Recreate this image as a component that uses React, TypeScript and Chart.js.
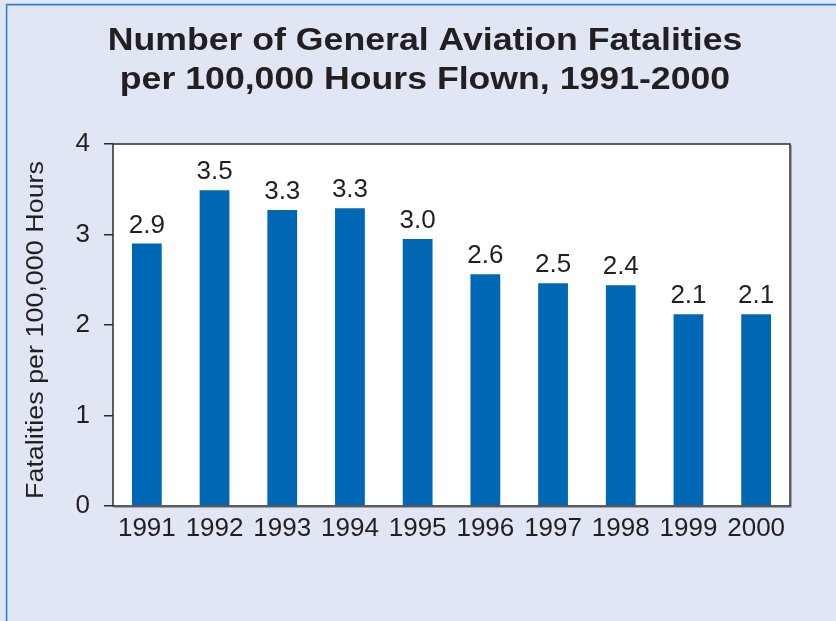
import React, { useEffect, useRef } from 'react';
import { Chart, registerables } from 'chart.js';

Chart.register(...registerables);

const years = ['1991', '1992', '1993', '1994', '1995', '1996', '1997', '1998', '1999', '2000'];
const fatalityRates = [2.9, 3.49, 3.27, 3.29, 2.95, 2.56, 2.46, 2.44, 2.12, 2.12];
const valueLabels = ['2.9', '3.5', '3.3', '3.3', '3.0', '2.6', '2.5', '2.4', '2.1', '2.1'];
const titleLines = ['Number of General Aviation Fatalities', 'per 100,000 Hours Flown, 1991-2000'];
const yAxisTitle = 'Fatalities per 100,000 Hours';
const yMin = 0;
const yMax = 4;
const yStep = 1;

const FONT = '"Liberation Sans", Arial, Helvetica, sans-serif';
const TEXT = '#231f20';
const BG = 'rgb(224,230,244)';
const BAR = '#0067b4';

const decorPlugin = {
  id: 'decor',
  beforeDraw(chart: any) {
    const ctx = chart.ctx;
    const a = chart.chartArea;
    ctx.save();
    ctx.fillStyle = BG;
    ctx.fillRect(0, 0, chart.width, chart.height);
    ctx.fillStyle = '#ffffff';
    ctx.fillRect(a.left, a.top, a.right - a.left, a.bottom - a.top);
    // outer border
    ctx.strokeStyle = '#2e80d4';
    ctx.lineWidth = 1.6;
    ctx.beginPath();
    ctx.moveTo(6.6, chart.height);
    ctx.lineTo(6.6, 4.6);
    ctx.lineTo(chart.width, 4.6);
    ctx.stroke();
    // title
    ctx.fillStyle = TEXT;
    ctx.font = `bold 31px ${FONT}`;
    ctx.textAlign = 'center';
    ctx.textBaseline = 'alphabetic';
    const baselines = [50, 89];
    titleLines.forEach((line, i) => {
      ctx.save();
      ctx.translate(425, baselines[i]);
      ctx.scale(1.15, 1);
      ctx.fillText(line, 0, 0);
      ctx.restore();
    });
    // y axis title
    ctx.font = `23px ${FONT}`;
    ctx.save();
    ctx.translate(43, 330);
    ctx.rotate(-Math.PI / 2);
    ctx.scale(1.17, 1);
    ctx.fillText(yAxisTitle, 0, 0);
    ctx.restore();
    ctx.restore();
  },
  afterDatasetsDraw(chart: any) {
    const ctx = chart.ctx;
    const a = chart.chartArea;
    const meta = chart.getDatasetMeta(0);
    ctx.save();
    ctx.fillStyle = TEXT;
    ctx.font = `26px ${FONT}`;
    ctx.textAlign = 'center';
    ctx.textBaseline = 'alphabetic';
    meta.data.forEach((bar: any, i: number) => {
      ctx.fillText(valueLabels[i], bar.x, bar.y - 11);
    });
    // plot frame shadow
    ctx.strokeStyle = 'rgba(120,120,120,0.6)';
    ctx.lineWidth = 1;
    ctx.beginPath();
    ctx.moveTo(a.right + 1.5, a.top + 1);
    ctx.lineTo(a.right + 1.5, a.bottom + 1.5);
    ctx.lineTo(a.left + 1, a.bottom + 1.5);
    ctx.stroke();
    // plot frame
    ctx.strokeStyle = '#2b2b2b';
    ctx.lineWidth = 1.5;
    ctx.strokeRect(a.left, a.top, a.right - a.left, a.bottom - a.top);
    ctx.restore();
  },
};

export default function App() {
  const ref = useRef<HTMLCanvasElement>(null);
  useEffect(() => {
    if (!ref.current) return;
    const chart = new Chart(ref.current, {
      type: 'bar',
      data: {
        labels: years,
        datasets: [
          {
            data: fatalityRates,
            backgroundColor: BAR,
            borderWidth: 0,
            barPercentage: 0.44,
            categoryPercentage: 1,
          },
        ],
      },
      options: {
        responsive: false,
        animation: false,
        events: [],
        layout: { padding: { left: 0, right: 46, top: 144, bottom: 75 } },
        plugins: { legend: { display: false }, title: { display: false }, tooltip: { enabled: false } },
        scales: {
          x: {
            grid: { display: false, drawTicks: false },
            border: { display: false },
            ticks: {
              color: TEXT,
              font: { size: 26, family: FONT },
              padding: 7,
              maxRotation: 0,
              autoSkip: false,
            },
            afterFit(s: any) {
              s.height = 40;
            },
          },
          y: {
            min: yMin,
            max: yMax,
            grid: { display: true, drawOnChartArea: false, drawTicks: true, tickLength: 9, color: '#2b2b2b', lineWidth: 1.5 },
            border: { display: false },
            ticks: {
              stepSize: yStep,
              color: TEXT,
              font: { size: 26, family: FONT },
              padding: 14,
            },
            afterFit(s: any) {
              s.width = 113;
            },
          },
        },
      },
      plugins: [decorPlugin],
    });
    return () => chart.destroy();
  }, []);
  return (
    <div style={{ position: 'absolute', left: 0, top: 0, width: 836, height: 621 }}>
      <canvas ref={ref} width={836} height={621} />
    </div>
  );
}
